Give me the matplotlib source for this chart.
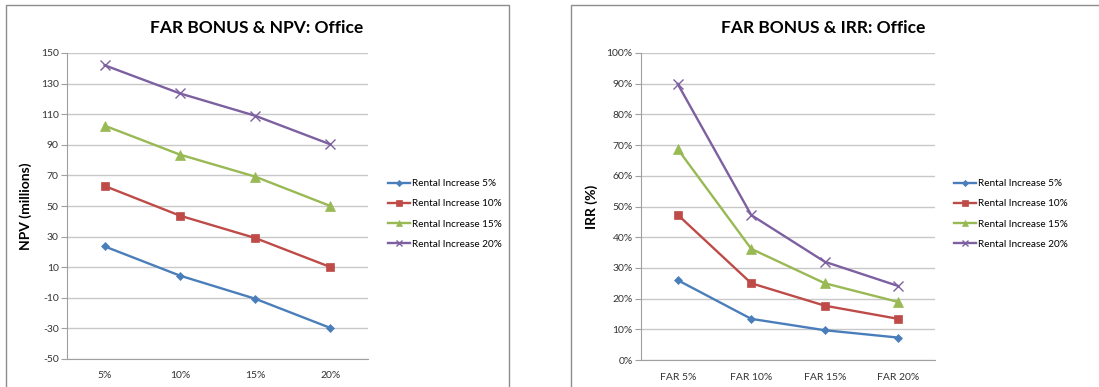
import matplotlib.pyplot as plt
from matplotlib.patches import Rectangle
from matplotlib.ticker import FuncFormatter

plt.rcParams['font.family'] = ['Lato', 'DejaVu Sans']

series_names = ["Rental Increase 5%", "Rental Increase 10%",
                "Rental Increase 15%", "Rental Increase 20%"]
npv_categories = ["5%", "10%", "15%", "20%"]
irr_categories = ["FAR 5%", "FAR 10%", "FAR 15%", "FAR 20%"]

npv_rent5 = [23.6, 4.5, -10.6, -29.7]
npv_rent10 = [63.1, 43.7, 29.1, 10.1]
npv_rent15 = [102.5, 83.6, 69.2, 50.0]
npv_rent20 = [142.0, 123.6, 109.0, 90.3]

irr_rent5 = [26.0, 13.4, 9.7, 7.3]
irr_rent10 = [47.3, 25.0, 17.7, 13.4]
irr_rent15 = [68.7, 36.2, 25.0, 18.9]
irr_rent20 = [89.9, 47.2, 32.0, 24.1]

colors = ["#4A7EBB", "#BE4B48", "#98B954", "#7D60A0"]
markers = ["D", "s", "^", "x"]
msizes = [4.2, 6.2, 6.5, 6.5]

fig = plt.figure(figsize=(10.99, 3.87), dpi=100)
W, H = 1099, 387

# panel frames
for x0, x1 in [(6, 509), (571, 1110)]:
    fig.patches.append(Rectangle((x0 / W, -0.05), (x1 - x0) / W, 1 - 5 / H + 0.05,
                                 transform=fig.transFigure, fill=False,
                                 edgecolor="#8c8c8c", linewidth=1.0))


def draw_panel(rect, cats, data, ylim, yticks, ylabel, title, fmt, legend_x, title_x):
    ax = fig.add_axes([rect[0] / W, 1 - rect[3] / H, (rect[2] - rect[0]) / W,
                       (rect[3] - rect[1]) / H])
    xs = list(range(len(cats)))
    for vals, name, c, m, ms in zip(data, series_names, colors, markers, msizes):
        ax.plot(xs, vals, color=c, linewidth=1.7, marker=m, markersize=ms,
                markeredgewidth=1.0 if m == "x" else 0.5, markeredgecolor=c,
                label=name)
    ax.set_xlim(-0.5, len(cats) - 0.5)
    ax.set_ylim(*ylim)
    ax.set_yticks(yticks)
    ax.yaxis.set_major_formatter(FuncFormatter(fmt))
    ax.set_xticks(xs)
    ax.set_xticklabels(cats)
    ax.grid(axis="y", color="#c8c8c8", linewidth=1.0)
    ax.set_axisbelow(True)
    for s in ["top", "right"]:
        ax.spines[s].set_visible(False)
    for s in ["left", "bottom"]:
        ax.spines[s].set_color("#a0a0a0")
    ax.tick_params(axis="y", length=4, color="#a0a0a0", labelsize=7.5,
                   labelcolor="#333333", pad=2)
    ax.tick_params(axis="x", length=0, labelsize=7.5, labelcolor="#333333", pad=9)
    ax.set_ylabel(ylabel, fontsize=10, fontweight="bold", labelpad=6)
    fig.text(title_x / W, 1 - 28 / H, title, fontsize=12.5, fontweight="bold",
             ha="center", va="center")
    ax.legend(loc="center left", bbox_to_anchor=(legend_x / W, 1 - 214 / H),
              bbox_transform=fig.transFigure, frameon=False, fontsize=7.2,
              handlelength=2.2, labelspacing=1.12, handletextpad=0.2,
              markerscale=0.75, borderaxespad=0)
    return ax


draw_panel((67, 53, 368, 359), npv_categories,
           [npv_rent5, npv_rent10, npv_rent15, npv_rent20],
           (-50, 150), list(range(-50, 151, 20)), "NPV (millions)",
           "FAR BONUS & NPV: Office", lambda v, p: f"{v:.0f}", 384, 257)

draw_panel((641, 53, 935, 360), irr_categories,
           [irr_rent5, irr_rent10, irr_rent15, irr_rent20],
           (0, 100), list(range(0, 101, 10)), "IRR (%)",
           "FAR BONUS & IRR: Office", lambda v, p: f"{v:.0f}%", 950, 823)

fig.savefig("out.png", dpi=100, facecolor="white")
